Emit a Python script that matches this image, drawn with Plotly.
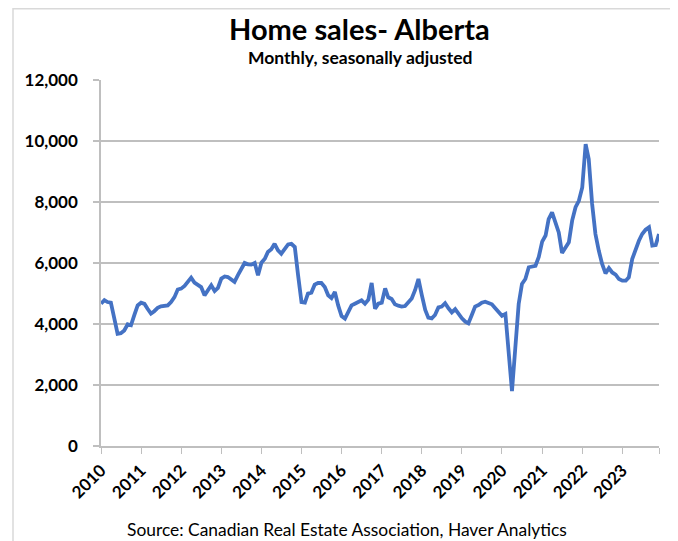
import pandas as pd
import plotly.graph_objects as go

# Monthly home sales, Alberta (seasonally adjusted), Jan 2010 - Dec 2023
sales_2010 = [4670, 4780, 4720, 4700, 4200, 3680, 3700, 3790, 3990, 3960, 4300, 4610]
sales_2011 = [4700, 4660, 4500, 4340, 4420, 4530, 4580, 4610, 4610, 4720, 4880, 5130]
sales_2012 = [5160, 5250, 5360, 5520, 5360, 5290, 5210, 4940, 5100, 5270, 5080, 5180]
sales_2013 = [5490, 5560, 5540, 5450, 5380, 5600, 5820, 6000, 5955, 5945, 6000, 5600]
sales_2014 = [6010, 6140, 6360, 6450, 6630, 6415, 6305, 6450, 6610, 6630, 6525, 5600]
sales_2015 = [4720, 4700, 4995, 5030, 5290, 5345, 5345, 5215, 4940, 4850, 5050, 4610]
sales_2016 = [4260, 4175, 4415, 4610, 4665, 4720, 4775, 4665, 4800, 5345, 4500, 4665]
sales_2017 = [4700, 5170, 4875, 4820, 4645, 4600, 4570, 4590, 4730, 4840, 5115, 5475]
sales_2018 = [4950, 4460, 4210, 4185, 4295, 4545, 4570, 4680, 4515, 4380, 4490, 4315]
sales_2019 = [4185, 4075, 4020, 4295, 4570, 4620, 4700, 4730, 4700, 4645, 4515, 4405]
sales_2020 = [4270, 4330, 3050, 1800, 3200, 4655, 5310, 5475, 5860, 5890, 5910, 6200]
sales_2021 = [6700, 6900, 7440, 7660, 7330, 7000, 6330, 6510, 6680, 7390, 7830, 8040]
sales_2022 = [8480, 9900, 9410, 7935, 6950, 6400, 5970, 5660, 5835, 5690, 5620, 5475]
sales_2023 = [5420, 5420, 5530, 6130, 6460, 6730, 6950, 7090, 7170, 6570, 6590, 6950]

years = list(range(2010, 2024))
sales = (sales_2010 + sales_2011 + sales_2012 + sales_2013 + sales_2014 + sales_2015
         + sales_2016 + sales_2017 + sales_2018 + sales_2019 + sales_2020 + sales_2021
         + sales_2022 + sales_2023)
months = pd.date_range("2010-01-01", periods=len(sales), freq="MS")

tick_vals = [f"{y}-01-01" for y in years] + ["2023-12-01"]
tick_text = [str(y) for y in years] + [""]

# The page body adds an 8px offset; lay out in screen pixels and compensate.
OFF = 8
W, H = 678 - OFF, 541 - OFF
L, R, T, B = 101, 659, 80, 446  # plot area in screen pixels


def px(x):
    return (x - L) / (R - L)


def py(y):
    return (B - y) / (B - T)


fig = go.Figure()
fig.add_trace(go.Scatter(
    x=months, y=sales, mode="lines",
    line=dict(color="#4472C4", width=3.8),
    hoverinfo="x+y", showlegend=False,
))

fig.update_layout(
    width=W, height=H,
    margin=dict(l=L - OFF, r=W - (R - OFF), t=T - OFF, b=H - (B - OFF)),
    paper_bgcolor="white", plot_bgcolor="white",
    font=dict(family="Lato, 'Open Sans', sans-serif", color="black"),
    xaxis=dict(
        type="date",
        range=["2010-01-01", "2023-12-01"],
        tickmode="array", tickvals=tick_vals, ticktext=tick_text,
        tickangle=-45,
        ticks="outside", ticklen=6, tickcolor="#BFBFBF", tickwidth=1.3,
        showgrid=False, zeroline=False,
        showline=True, linecolor="#BFBFBF", linewidth=1.5,
        tickfont=dict(size=17, family="Lato", color="black", weight="bold"),
    ),
    yaxis=dict(
        range=[0, 12000],
        tickmode="array", tickvals=[0, 2000, 4000, 6000, 8000, 10000, 12000],
        tickformat=",d",
        ticks="outside", ticklen=6, tickcolor="#BFBFBF", tickwidth=1.5,
        ticklabelstandoff=12,
        showgrid=True, gridcolor="#BFBFBF", gridwidth=1.5,
        zeroline=False,
        showline=True, linecolor="#BFBFBF", linewidth=1.5,
        tickfont=dict(size=17, family="Lato", color="black", weight="bold"),
    ),
    shapes=[dict(
        type="rect", xref="paper", yref="paper",
        x0=px(13), x1=px(675), y0=py(570), y1=py(OFF + 0.8),
        line=dict(color="#D9D9D9", width=1.5), fillcolor="rgba(0,0,0,0)",
        layer="below",
    )],
    annotations=[
        dict(text="<b>Home sales- Alberta</b>", xref="paper", yref="paper",
             x=px(359), y=py(29), xanchor="center", yanchor="middle",
             showarrow=False, font=dict(size=29, family="Lato", color="black")),
        dict(text="<b>Monthly, seasonally adjusted</b>", xref="paper", yref="paper",
             x=px(360), y=py(58), xanchor="center", yanchor="middle",
             showarrow=False, font=dict(size=17.5, family="Lato", color="black")),
        dict(text="Source: Canadian Real Estate Association, Haver Analytics",
             xref="paper", yref="paper",
             x=px(347), y=py(529), xanchor="center", yanchor="middle",
             showarrow=False, font=dict(size=17.4, family="Lato", color="black")),
    ],
)

fig.write_html("out.html")
